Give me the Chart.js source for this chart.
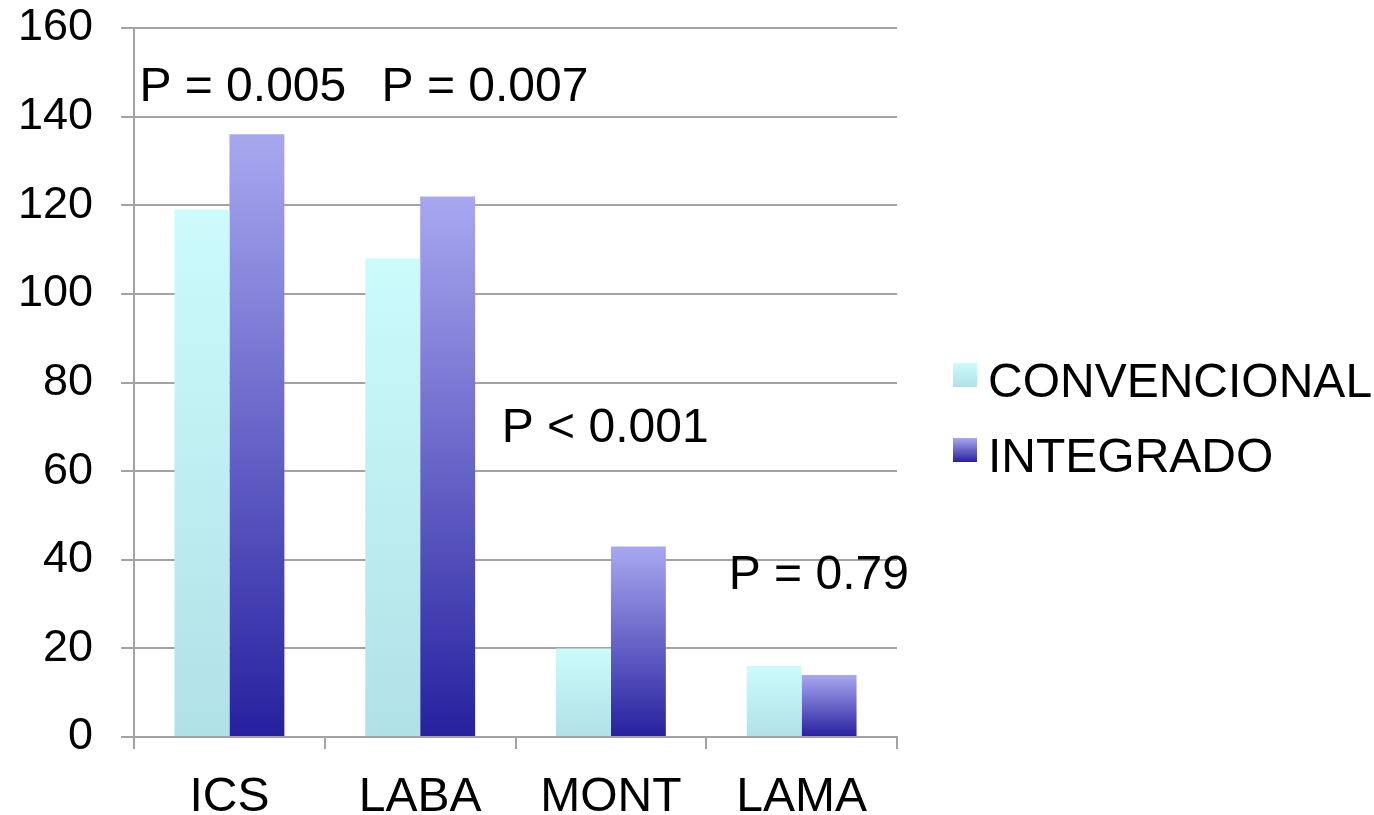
<!DOCTYPE html>
<html>
<head>
<meta charset="utf-8">
<script src="https://cdn.jsdelivr.net/npm/chart.js@4"></script>
<style>
  html, body { margin: 0; padding: 0; background: #fff; }
  #wrap { width: 1374px; height: 815px; }
</style>
</head>
<body>
<div id="wrap"><canvas id="barChart"></canvas></div>
<script>
const categories = ["ICS", "LABA", "MONT", "LAMA"];
const convencional = [119, 108, 20, 16];
const integrado = [136, 122, 43, 14];
const pLabels = ["P = 0.005", "P = 0.007", "P < 0.001", "P = 0.79"];
const pHeights = [143.5, 143.5, 66.5, 33.5];   // baseline, in y units
const pShift = [0.07, 0.34, -0.03, 0.09];       // offset from category centre, in categories
const yTicks = [0, 20, 40, 60, 80, 100, 120, 140, 160];

const FONT = "'Liberation Sans', Arial, sans-serif";
const GRID = "#a3a3a3";

const palettes = {
  CONVENCIONAL: ["#cdfbfc", "#b0e1e6"],
  INTEGRADO: ["#a8a8f0", "#27209f"]
};

// vertical gradient per bar: light on top, darker at the base
function barFill(ctx) {
  const chart = ctx.chart;
  const pal = palettes[ctx.dataset.label];
  if (!chart.chartArea || ctx.type !== "data") return pal[1];
  const y = chart.scales.y;
  const top = y.getPixelForValue(ctx.raw);
  const base = y.getPixelForValue(0);
  if (base - top < 1) return pal[1];
  const g = chart.ctx.createLinearGradient(0, top, 0, base);
  g.addColorStop(0, pal[0]);
  g.addColorStop(1, pal[1]);
  return g;
}

const pValuePlugin = {
  id: "pValues",
  afterDatasetsDraw(chart) {
    const { ctx, scales } = chart;
    ctx.save();
    ctx.font = "48px " + FONT;
    ctx.fillStyle = "#000";
    ctx.textAlign = "center";
    ctx.textBaseline = "alphabetic";
    pLabels.forEach((txt, i) => {
      const x = scales.x.getPixelForValue(i + pShift[i]);
      const y = scales.y.getPixelForValue(pHeights[i]);
      ctx.fillText(txt, x, y);
    });
    ctx.restore();
  }
};

const sideLegend = {
  id: "sideLegend",
  afterDraw(chart) {
    const { ctx, chartArea } = chart;
    const x0 = chartArea.right + 56;
    ctx.save();
    ctx.font = "48px " + FONT;
    ctx.textBaseline = "alphabetic";
    chart.data.datasets.forEach((ds, i) => {
      const top = 363 + i * 75;
      const pal = palettes[ds.label];
      const g = ctx.createLinearGradient(0, top, 0, top + 24);
      g.addColorStop(0, pal[0]);
      g.addColorStop(1, pal[1]);
      ctx.fillStyle = g;
      ctx.fillRect(x0, top, 24, 24);
      ctx.fillStyle = "#000";
      ctx.fillText(ds.label, x0 + 35, top + 34);
    });
    ctx.restore();
  }
};

new Chart(document.getElementById("barChart"), {
  type: "bar",
  data: {
    labels: categories,
    datasets: [
      { label: "CONVENCIONAL", data: convencional, backgroundColor: barFill },
      { label: "INTEGRADO", data: integrado, backgroundColor: barFill }
    ]
  },
  options: {
    responsive: true,
    maintainAspectRatio: false,
    animation: false,
    datasets: {
      bar: { categoryPercentage: 0.576, barPercentage: 1.0 }
    },
    layout: { padding: { top: 28, right: 477, left: -10, bottom: -32 } },
    plugins: {
      legend: { display: false },
      tooltip: { enabled: false }
    },
    scales: {
      x: {
        grid: { offset: true, drawOnChartArea: false, tickLength: 12, color: GRID, lineWidth: 2 },
        border: { color: GRID, width: 2 },
        ticks: { color: "#000", padding: 25, font: { family: FONT, size: 48, lineHeight: 1 } }
      },
      y: {
        min: 0,
        max: 160,
        afterBuildTicks: axis => { axis.ticks = yTicks.map(v => ({ value: v })); },
        afterFit: axis => { axis.paddingTop = 0; },
        grid: { color: GRID, lineWidth: 2, tickLength: 13 },
        border: { color: GRID, width: 2 },
        ticks: { color: "#000", padding: 28, font: { family: FONT, size: 45, lineHeight: 0.2 } }
      }
    }
  },
  plugins: [pValuePlugin, sideLegend]
});
</script>
</body>
</html>
